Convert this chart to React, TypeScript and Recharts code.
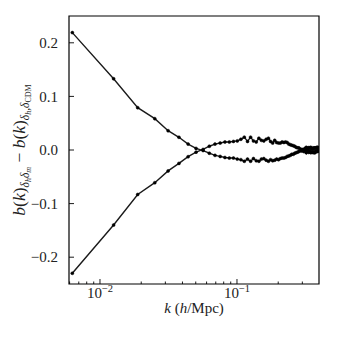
import { LineChart, Line, XAxis, YAxis, ReferenceArea } from "recharts";

// k = n * 2pi/1000 (h/Mpc)
const kValues = [
  0.00628, 0.01257, 0.01885, 0.02513, 0.03142, 0.0377, 0.04398, 0.05027, 0.05655, 0.06283,
  0.06912, 0.0754, 0.08168, 0.08796, 0.09425, 0.10053, 0.10681, 0.1131, 0.11938, 0.12566,
  0.13195, 0.13823, 0.14451, 0.1508, 0.15708, 0.16336, 0.16965, 0.17593, 0.18221, 0.1885,
  0.19478, 0.20106, 0.20735, 0.21363, 0.21991, 0.22619, 0.23248, 0.23876, 0.24504, 0.25133,
  0.25761, 0.26389, 0.27018, 0.27646, 0.28274, 0.28903, 0.29531, 0.30159, 0.30788, 0.31416,
  0.32044, 0.32673, 0.33301, 0.33929, 0.34558, 0.35186, 0.35814, 0.36442, 0.37071, 0.37699,
  0.38327, 0.38956, 0.39584,
];

const seriesA = [
  0.219, 0.133, 0.079, 0.0585, 0.036, 0.0237, 0.011, 0.003, -0.001, -0.006,
  -0.01, -0.012, -0.014, -0.015, -0.015, -0.017, -0.018, -0.021, -0.017, -0.021,
  -0.016, -0.02, -0.021, -0.017, -0.016, -0.019, -0.021, -0.018, -0.02, -0.019,
  -0.017, -0.018, -0.016, -0.015, -0.015, -0.014, -0.012, -0.011, -0.01, -0.008,
  -0.008, -0.006, -0.005, -0.004, -0.003, -0.001, -0.002, 0.001, -0.003, 0.002,
  -0.005, 0.003, -0.004, 0.004, -0.005, 0.003, -0.004, 0.004, -0.005, 0.004,
  -0.003, 0.005, -0.002,
];

const seriesB = [
  -0.23, -0.14, -0.083, -0.061, -0.039, -0.025, -0.0125, -0.004, 0.001, 0.007,
  0.011, 0.013, 0.015, 0.015, 0.016, 0.017, 0.02, 0.024, 0.016, 0.024,
  0.017, 0.015, 0.022, 0.018, 0.017, 0.02, 0.022, 0.016, 0.013, 0.018,
  0.014, 0.013, 0.013, 0.015, 0.014, 0.015, 0.014, 0.011, 0.01, 0.009,
  0.008, 0.007, 0.005, 0.004, 0.004, 0.002, 0.001, -0.001, 0.001, 0.003,
  0.005, -0.002, 0.004, -0.003, 0.005, -0.004, 0.003, -0.005, 0.004, -0.003,
  0.005, -0.002, 0.003,
];

const xDomain = [0.00594, 0.397];
const yDomain = [-0.25, 0.25];
const xTicks = [
  0.006, 0.007, 0.008, 0.009, 0.01, 0.02, 0.03, 0.04, 0.05, 0.06, 0.07, 0.08, 0.09,
  0.1, 0.2, 0.3,
];
const xMajor = [0.01, 0.1];
const yTicks = [-0.2, -0.1, 0, 0.1, 0.2];

const data = kValues.map((k, i) => ({ k, a: seriesA[i], b: seriesB[i] }));

const FONT = "Liberation Serif, DejaVu Serif, serif";

function XTick(props: any) {
  const { x, y, payload } = props;
  const v = payload.value;
  const major = xMajor.some((m) => Math.abs(m - v) < 1e-9);
  const exp = Math.round(Math.log10(v));
  return (
    <g>
      <line x1={x} x2={x} y1={y} y2={y - (major ? 5 : 2.5)} stroke="#000" strokeWidth={0.9} />
      {major && (
        <text x={x} y={y + 14} textAnchor="middle" fontFamily={FONT} fontSize={15} fill="#222">
          10
          <tspan fontSize={10.5} dy={-6}>
            {"\u2212" + Math.abs(exp)}
          </tspan>
        </text>
      )}
    </g>
  );
}

function YTick(props: any) {
  const { x, y, payload } = props;
  const v = payload.value;
  const label = (v < 0 ? "\u2212" : "") + Math.abs(v).toFixed(1);
  return (
    <g>
      <line x1={x} x2={x + 5} y1={y} y2={y} stroke="#000" strokeWidth={0.9} />
      <text x={x - 11} y={y} dy="0.35em" textAnchor="end" fontFamily={FONT} fontSize={15} fill="#222">
        {label}
      </text>
    </g>
  );
}

function XTitle(props: any) {
  const { viewBox } = props;
  const cx = viewBox.x + viewBox.width / 2;
  return (
    <text x={cx} y={viewBox.y + 29} textAnchor="middle" fontFamily={FONT} fontSize={15} fill="#222">
      <tspan fontStyle="italic">k</tspan> (<tspan fontStyle="italic">h</tspan>/Mpc)
    </text>
  );
}

function YTitle(props: any) {
  const { viewBox } = props;
  const cx = viewBox.x + 25;
  const cy = viewBox.y + viewBox.height / 2;
  return (
    <text
      x={cx}
      y={cy}
      transform={`rotate(-90, ${cx}, ${cy})`}
      textAnchor="middle"
      fontFamily={FONT}
      fontSize={17.5}
      fill="#222"
    >
      <tspan fontStyle="italic">b</tspan>(<tspan fontStyle="italic">k</tspan>)
      <tspan fontSize={11.5} fontStyle="italic" dy={4}>δ</tspan>
      <tspan fontSize={8} fontStyle="italic" dy={2}>h</tspan>
      <tspan fontSize={11.5} fontStyle="italic" dy={-2}>δ</tspan>
      <tspan fontSize={8} fontStyle="italic" dy={2}>m</tspan>
      <tspan dy={-6}>{" \u2212 "}</tspan>
      <tspan fontStyle="italic">b</tspan>(<tspan fontStyle="italic">k</tspan>)
      <tspan fontSize={11.5} fontStyle="italic" dy={4}>δ</tspan>
      <tspan fontSize={8} fontStyle="italic" dy={2}>h</tspan>
      <tspan fontSize={11.5} fontStyle="italic" dy={-2}>,δ</tspan>
      <tspan fontSize={8} dy={2}>CDM</tspan>
    </text>
  );
}

export default function App() {
  return (
    <div style={{ position: "absolute", left: 0, top: 0, background: "#fff" }}>
      <LineChart width={337} height={337} data={data} margin={{ top: 16, right: 18, bottom: 0, left: 0 }}>
        <XAxis
          dataKey="k"
          type="number"
          scale="log"
          domain={xDomain}
          allowDataOverflow
          ticks={xTicks}
          interval={0}
          axisLine={false}
          tickLine={false}
          tickSize={0}
          tickMargin={0}
          tick={<XTick />}
          height={53}
          label={<XTitle />}
        />
        <YAxis
          type="number"
          domain={yDomain}
          ticks={yTicks}
          interval={0}
          axisLine={false}
          tickLine={false}
          tickSize={0}
          tickMargin={0}
          tick={<YTick />}
          width={69}
          label={<YTitle />}
        />
        <ReferenceArea
          x1={xDomain[0]}
          x2={xDomain[1]}
          y1={yDomain[0]}
          y2={yDomain[1]}
          fill="none"
          stroke="#000"
          strokeWidth={1.2}
        />
        <Line
          type="linear"
          dataKey="a"
          stroke="#1a1a1a"
          strokeWidth={1.4}
          dot={{ r: 1.5, fill: "#000", stroke: "#000", strokeWidth: 0.5 }}
          isAnimationActive={false}
        />
        <Line
          type="linear"
          dataKey="b"
          stroke="#1a1a1a"
          strokeWidth={1.4}
          dot={{ r: 1.5, fill: "#000", stroke: "#000", strokeWidth: 0.5 }}
          isAnimationActive={false}
        />
      </LineChart>
    </div>
  );
}
